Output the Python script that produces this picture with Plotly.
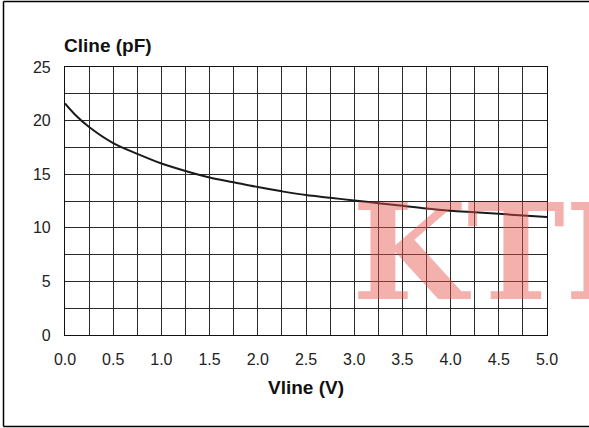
import plotly.graph_objects as go

vline = [0.0, 0.1, 0.25, 0.5, 0.75, 1.0, 1.25, 1.5, 1.75, 2.0, 2.25, 2.5, 2.75,
         3.0, 3.25, 3.5, 3.75, 4.0, 4.25, 4.5, 4.75, 5.0]
cline = [21.6, 20.6, 19.4, 17.9, 16.9, 16.0, 15.3, 14.7, 14.25, 13.8, 13.4, 13.05, 12.8,
         12.55, 12.3, 12.05, 11.8, 11.6, 11.45, 11.3, 11.15, 11.0]

x_ticks = [0.0, 0.5, 1.0, 1.5, 2.0, 2.5, 3.0, 3.5, 4.0, 4.5, 5.0]
x_tick_text = ["0.0", "0.5", "1.0", "1.5", "2.0", "2.5", "3.0", "3.5", "4.0", "4.5", "5.0"]
y_ticks = [0, 5, 10, 15, 20, 25]

fig = go.Figure()
fig.add_trace(go.Scatter(x=vline, y=cline, mode="lines",
                         line=dict(color="#1a1a1a", width=2, shape="spline", smoothing=1.0),
                         hoverinfo="skip", showlegend=False))

axis_common = dict(showline=True, linecolor="#111", linewidth=1.2, mirror=True,
                   showgrid=True, gridcolor="#2a2a2a", gridwidth=1, zeroline=False,
                   ticks="", tickfont=dict(family="Liberation Sans, Arial", size=16, color="#222"))

fig.update_xaxes(range=[0, 5], tickvals=x_ticks, ticktext=x_tick_text,
                 minor=dict(dtick=0.25, showgrid=True, gridcolor="#2a2a2a", gridwidth=1),
                 ticklabelstandoff=10, **axis_common)
fig.update_yaxes(range=[0, 25], tickvals=y_ticks,
                 minor=dict(dtick=2.5, showgrid=True, gridcolor="#2a2a2a", gridwidth=1),
                 ticklabelstandoff=10, **axis_common)

fig.update_layout(
    width=589, height=428,
    margin=dict(l=65, r=42, t=67, b=93),
    paper_bgcolor="white", plot_bgcolor="white",
    font=dict(family="Liberation Sans, Arial", color="#111"),
    annotations=[
        dict(text="<b>Cline (pF)</b>", xref="paper", yref="paper",
             x=(62 - 65) / 482, y=(335 - 45) / 268, xanchor="left", yanchor="middle",
             showarrow=False, font=dict(size=19, color="#111")),
        dict(text="<b>Vline (V)</b>", xref="paper", yref="paper",
             x=0.5, y=(335 - 387) / 268, xanchor="center", yanchor="middle",
             showarrow=False, font=dict(size=19, color="#111")),
        dict(text="KTP", xref="paper", yref="paper",
             x=(350 - 65) / 482, y=(335 - 252) / 268, xanchor="left", yanchor="middle",
             showarrow=False,
             font=dict(family="DejaVu Serif", size=132, weight="bold",
                       color="rgba(230,80,70,0.45)")),
    ],
    shapes=[
        dict(type="line", xref="paper", yref="paper",
             x0=(3.5 - 65) / 482, x1=(3.5 - 65) / 482,
             y0=(335 - 426.5) / 268, y1=(335 - 1.5) / 268,
             line=dict(color="black", width=1.5)),
        dict(type="line", xref="paper", yref="paper",
             x0=(3.5 - 65) / 482, x1=(600 - 65) / 482,
             y0=(335 - 1.5) / 268, y1=(335 - 1.5) / 268,
             line=dict(color="black", width=1.5)),
        dict(type="line", xref="paper", yref="paper",
             x0=(3.5 - 65) / 482, x1=(600 - 65) / 482,
             y0=(335 - 426.5) / 268, y1=(335 - 426.5) / 268,
             line=dict(color="black", width=1.5)),
    ],
)

fig.write_html("out.html")
